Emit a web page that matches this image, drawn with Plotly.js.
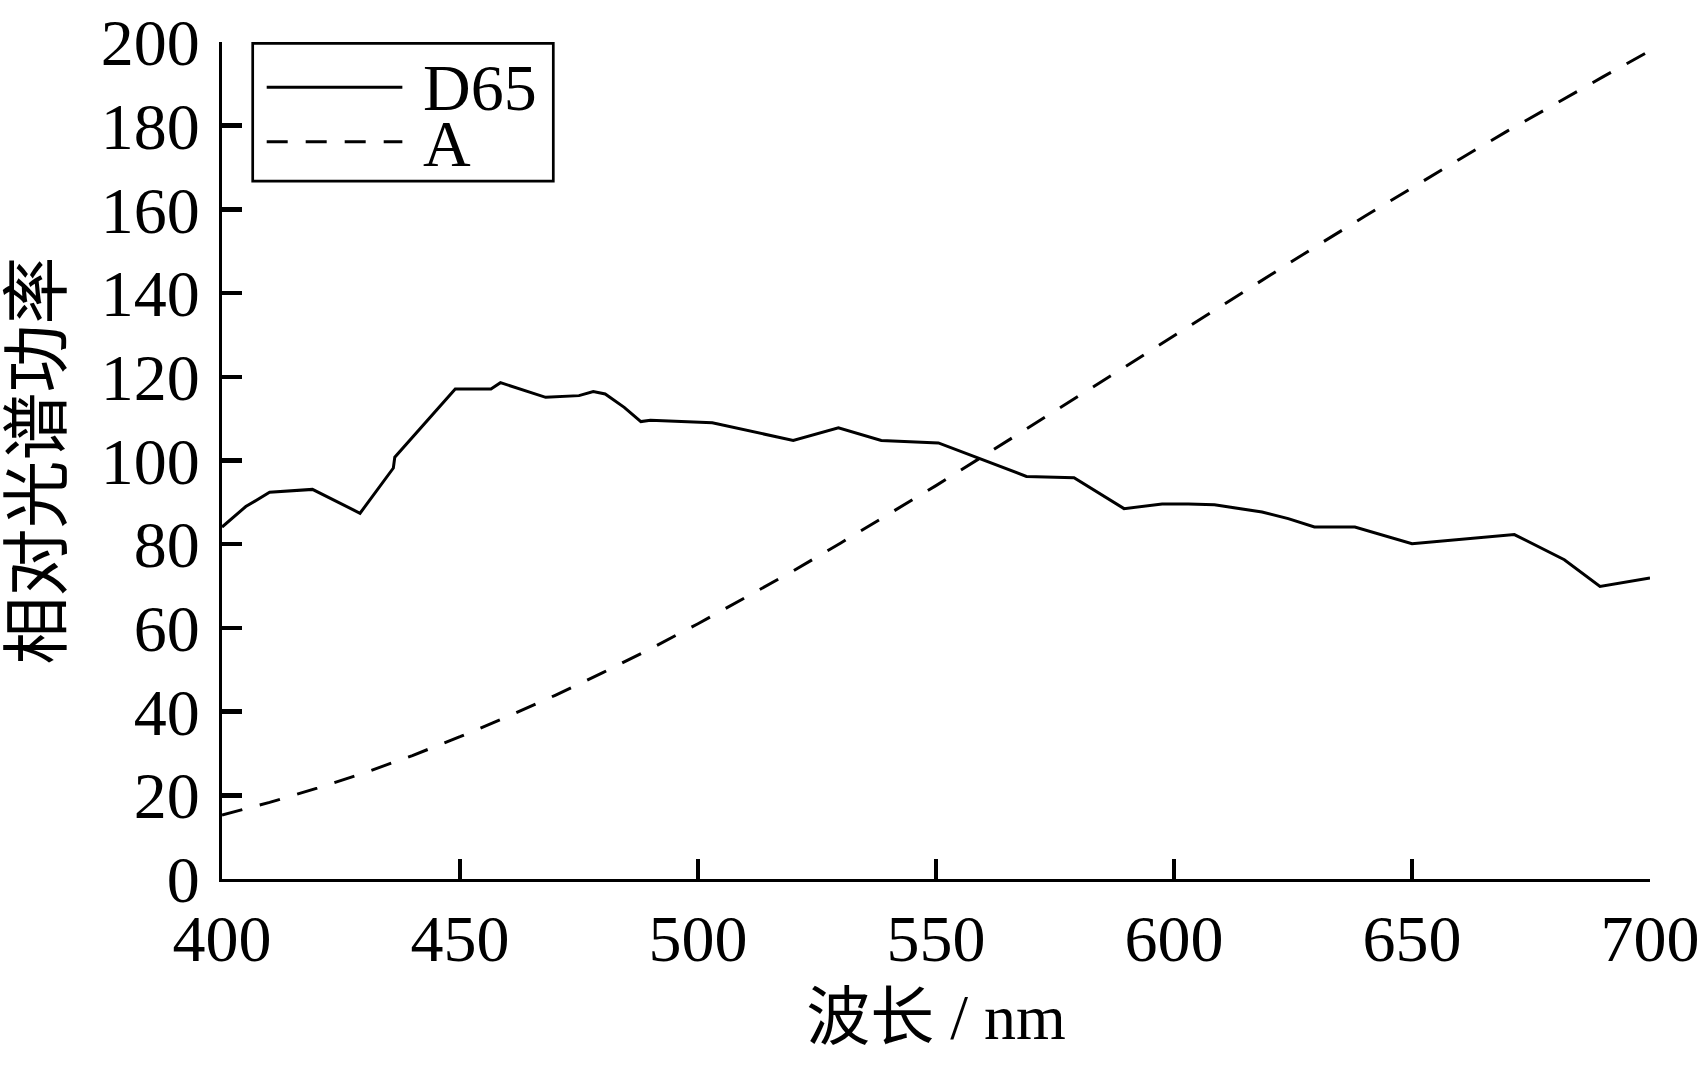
<!DOCTYPE html>
<html>
<head>
<meta charset="utf-8">
<script src="https://cdn.plot.ly/plotly-3.0.1.min.js"></script>
<style>html,body{margin:0;padding:0;background:#fff;}#chart{width:1706px;height:1065px;}</style>
</head>
<body>
<div id="chart"></div>
<script>
// D65 relative spectral power
const d65Wavelength = [400,405,410,419,429,436,436.3,449,456.5,458.5,468,475,478,480.5,484.5,488,490,497,503,520,529.5,538.5,550.5,569,579,589.5,597.5,603,608.5,618.5,624,629.5,638,650,671.5,682,689.5,700];
const d65Power = [84.1,89.0,92.4,93.1,87.4,98.2,100.8,117.1,117.1,118.6,115.1,115.5,116.5,115.9,112.7,109.3,109.6,109.3,109.0,104.8,107.8,104.8,104.2,96.2,95.9,88.5,89.6,89.6,89.4,87.7,86.1,84.1,84.1,80.1,82.3,76.3,69.9,71.9];
// Illuminant A relative spectral power
const aWavelength = [400,410,420,430,440,450,460,470,480,490,500,510,520,530,540,550,560,570,580,590,600,610,620,630,640,650,660,670,680,690,700];
const aPower = [15.3,18.3,21.7,25.4,29.5,34.0,38.8,43.9,49.3,55.0,61.0,67.2,73.6,80.3,87.1,94.0,101.1,108.2,115.4,122.6,129.8,137.0,144.2,151.3,158.3,165.2,172.0,178.7,185.2,191.6,197.9];
const seriesNames = ['D65','A'];
const xTicks = [400,450,500,550,600,650,700];
const yTicks = [0,20,40,60,80,100,120,140,160,180,200];
const xTitle = '波长 / nm';
const yTitle = '相对光谱功率';

const serif = '"Liberation Serif", "Times New Roman", "Noto Sans CJK SC", serif';
const cjk = '"Liberation Serif", "Noto Sans CJK SC", serif';

const lineStyles = [
  {color: '#000', width: 3, dash: 'solid'},
  {color: '#000', width: 3, dash: '21px,18px'}
];

const traces = [
  {x: d65Wavelength, y: d65Power, name: seriesNames[0], type: 'scatter', mode: 'lines', line: lineStyles[0], showlegend: false},
  {x: aWavelength, y: aPower, name: seriesNames[1], type: 'scatter', mode: 'lines', line: lineStyles[1], showlegend: false}
];

// legend drawn in paper coordinates (box, samples, labels)
const legendBox = {x0: 0.0215, x1: 0.2320, y0: 0.8339, y1: 0.9984};
const sampleX = [0.0313, 0.1263];
const rowY = [0.9459, 0.8809];
const labelX = 0.1398;
const labelY = [0.9466, 0.8790];

const shapes = [
  {type: 'rect', xref: 'paper', yref: 'paper', x0: legendBox.x0, x1: legendBox.x1, y0: legendBox.y0, y1: legendBox.y1,
   line: {color: '#000', width: 2.7}, fillcolor: 'rgba(255,255,255,1)', layer: 'above'}
];
const annotations = [];
seriesNames.forEach((name, i) => {
  shapes.push({type: 'line', xref: 'paper', yref: 'paper', x0: sampleX[0], x1: sampleX[1], y0: rowY[i], y1: rowY[i],
    line: {color: lineStyles[i].color, width: lineStyles[i].width, dash: lineStyles[i].dash}, layer: 'above'});
  annotations.push({xref: 'paper', yref: 'paper', x: labelX, y: labelY[i], xanchor: 'left', yanchor: 'middle',
    text: name, showarrow: false, height: 50, font: {family: serif, size: 66, color: '#000'}, borderpad: 0});
});

const layout = {
  width: 1706, height: 1065,
  paper_bgcolor: '#fff', plot_bgcolor: '#fff',
  margin: {l: 222, r: 56, t: 42, b: 186, pad: 0},
  font: {family: serif, color: '#000', size: 66},
  showlegend: false,
  shapes: shapes,
  annotations: annotations,
  xaxis: {
    range: [400, 700], tickvals: xTicks, ticktext: xTicks.map(String),
    ticks: 'inside', ticklen: 20, tickwidth: 3.5, tickcolor: '#000',
    showline: true, linecolor: '#000', linewidth: 3, mirror: false,
    showgrid: false, zeroline: false,
    tickfont: {family: serif, size: 66, color: '#000'},
    title: {text: xTitle, font: {family: cjk, size: 64, color: '#000'}, standoff: 20},
    automargin: false
  },
  yaxis: {
    range: [0, 200], tickvals: yTicks, ticktext: yTicks.map(String),
    ticks: 'inside', ticklen: 20, tickwidth: 4.5, tickcolor: '#000',
    showline: true, linecolor: '#000', linewidth: 3, mirror: false,
    showgrid: false, zeroline: false,
    tickfont: {family: serif, size: 66, color: '#000'},
    ticklabelstandoff: 6,
    title: {text: yTitle, font: {family: cjk, size: 68, color: '#000'}, standoff: 30},
    automargin: false
  }
};

Plotly.newPlot('chart', traces, layout, {displayModeBar: false, staticPlot: true});
</script>
</body>
</html>
